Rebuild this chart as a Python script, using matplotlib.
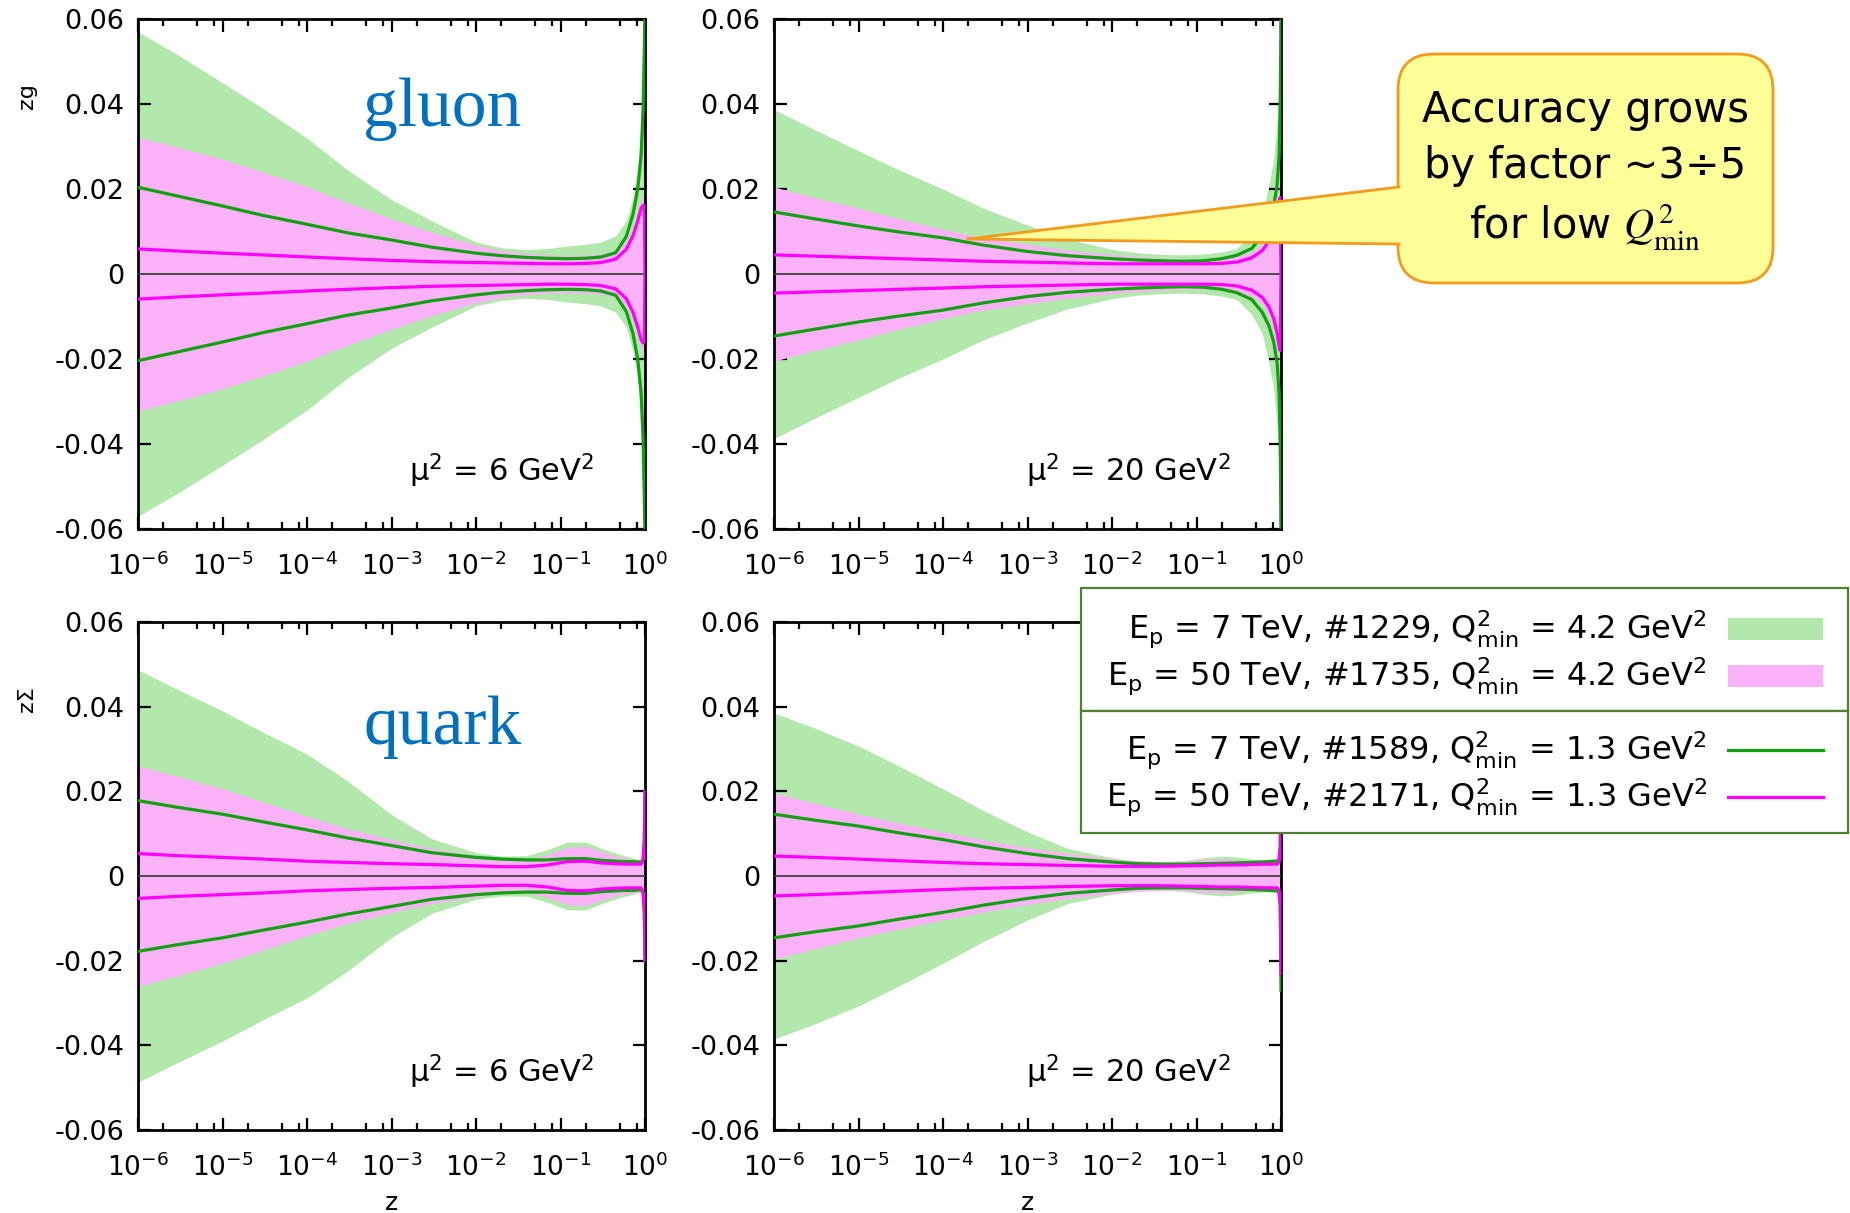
import numpy as np
import matplotlib.pyplot as plt
from matplotlib.patches import FancyBboxPatch, Rectangle, Polygon
from matplotlib.ticker import LogLocator, NullFormatter, FixedLocator, FixedFormatter

plt.rcParams['font.family'] = ['DejaVu Sans']
plt.rcParams['mathtext.fontset'] = 'dejavusans'

# z grid shared by all curves
z = [1e-6, 3e-6, 1e-5, 3e-5, 1e-4, 3e-4, 1e-3, 3e-3, 1e-2, 2e-2, 4e-2, 0.07,
     0.12, 0.2, 0.3, 0.45, 0.6, 0.72, 0.82, 0.9, 0.95, 0.98, 1.0]

# half-widths of the uncertainty (everything is symmetric around 0)
# gluon, mu^2 = 6 GeV^2
g6_band7 = [0.057, 0.0515, 0.045, 0.039, 0.032, 0.0245, 0.0175, 0.0125, 0.0075, 0.0062, 0.0057, 0.0060,
            0.0066, 0.0070, 0.0075, 0.0090, 0.0125, 0.018, 0.025, 0.034, 0.045, 0.056, 0.062]
g6_band50 = [0.0322, 0.0298, 0.027, 0.024, 0.0205, 0.0168, 0.013, 0.0098, 0.0068, 0.0055, 0.0048, 0.0045,
             0.0044, 0.0045, 0.0047, 0.0055, 0.0075, 0.0105, 0.014, 0.0175, 0.019, 0.025, 0.062]
g6_line7 = [0.0204, 0.0183, 0.0160, 0.0138, 0.0117, 0.0097, 0.0080, 0.0063, 0.0049, 0.0043, 0.0039, 0.0037,
            0.0036, 0.0037, 0.0040, 0.0050, 0.0088, 0.0140, 0.020, 0.028, 0.039, 0.052, 0.062]
g6_line50 = [0.0059, 0.0054, 0.0049, 0.0045, 0.0040, 0.0036, 0.0032, 0.0029, 0.0027, 0.0026, 0.0025, 0.0024,
             0.0024, 0.0025, 0.0027, 0.0035, 0.0058, 0.0090, 0.0125, 0.0155, 0.0162, 0.0160, 0.0]

# gluon, mu^2 = 20 GeV^2
g20_band7 = [0.0387, 0.034, 0.029, 0.0245, 0.020, 0.0155, 0.0115, 0.0082, 0.0058, 0.0050, 0.0046, 0.0045,
             0.0047, 0.0052, 0.0060, 0.0095, 0.014, 0.021, 0.027, 0.036, 0.046, 0.056, 0.062]
g20_band50 = [0.0205, 0.018, 0.0155, 0.013, 0.0105, 0.0085, 0.0070, 0.0056, 0.0046, 0.0041, 0.0038, 0.0036,
              0.0036, 0.0038, 0.0042, 0.0052, 0.0070, 0.0095, 0.013, 0.017, 0.020, 0.025, 0.062]
g20_line7 = [0.0146, 0.0130, 0.0113, 0.0099, 0.0085, 0.0068, 0.0053, 0.0043, 0.0036, 0.0033, 0.0031, 0.0030,
             0.0031, 0.0036, 0.0044, 0.0060, 0.0090, 0.0122, 0.016, 0.021, 0.028, 0.040, 0.062]
g20_line50 = [0.0045, 0.0042, 0.0039, 0.0036, 0.0033, 0.0030, 0.0028, 0.0026, 0.0024, 0.0024, 0.0024, 0.0024,
              0.0024, 0.0025, 0.0028, 0.0038, 0.0055, 0.0078, 0.0105, 0.014, 0.017, 0.018, 0.0]

# quark singlet, mu^2 = 6 GeV^2
q6_band7 = [0.0487, 0.044, 0.039, 0.034, 0.0288, 0.0225, 0.0145, 0.0088, 0.0055, 0.0047, 0.0048, 0.0062,
            0.0080, 0.0080, 0.0066, 0.0054, 0.0047, 0.0043, 0.0040, 0.0037, 0.0045, 0.009, 0.020]
q6_band50 = [0.026, 0.0235, 0.0206, 0.0175, 0.0141, 0.0112, 0.0086, 0.0065, 0.0049, 0.0042, 0.0040, 0.0050,
             0.0068, 0.0070, 0.0058, 0.0047, 0.0042, 0.0040, 0.0037, 0.0034, 0.0045, 0.009, 0.020]
q6_line7 = [0.0178, 0.0162, 0.0146, 0.0128, 0.0109, 0.0090, 0.0072, 0.0055, 0.0044, 0.0040, 0.0038, 0.0038,
            0.0041, 0.0041, 0.0037, 0.0035, 0.0034, 0.0034, 0.0033, 0.0033, 0.0040, 0.008, 0.020]
q6_line50 = [0.0053, 0.0048, 0.0044, 0.0040, 0.0035, 0.0032, 0.0029, 0.0027, 0.0024, 0.0022, 0.0022, 0.0026,
             0.0034, 0.0035, 0.0031, 0.0029, 0.0028, 0.0028, 0.0028, 0.0028, 0.0038, 0.008, 0.020]

# quark singlet, mu^2 = 20 GeV^2
q20_band7 = [0.0385, 0.035, 0.0307, 0.026, 0.0206, 0.0155, 0.0104, 0.0065, 0.0043, 0.0035, 0.0033, 0.0036,
             0.0043, 0.0047, 0.0045, 0.0040, 0.0038, 0.0036, 0.0035, 0.0034, 0.0040, 0.008, 0.027]
q20_band50 = [0.0196, 0.0172, 0.0146, 0.0125, 0.0104, 0.0085, 0.0067, 0.0053, 0.0041, 0.0036, 0.0034, 0.0035,
              0.0038, 0.0040, 0.0038, 0.0034, 0.0032, 0.0031, 0.0030, 0.0030, 0.0038, 0.008, 0.025]
q20_line7 = [0.0146, 0.0132, 0.0118, 0.0102, 0.0086, 0.0069, 0.0053, 0.0041, 0.0033, 0.0029, 0.0028, 0.0028,
             0.0029, 0.0030, 0.0031, 0.0032, 0.0033, 0.0034, 0.0035, 0.0035, 0.0040, 0.007, 0.027]
q20_line50 = [0.0047, 0.0044, 0.0040, 0.0036, 0.0032, 0.0029, 0.0027, 0.0025, 0.0023, 0.0023, 0.0023, 0.0024,
              0.0025, 0.0026, 0.0026, 0.0027, 0.0028, 0.0028, 0.0028, 0.0028, 0.0034, 0.007, 0.023]

yticks = [-0.06, -0.04, -0.02, 0, 0.02, 0.04, 0.06]
ytick_labels = ['-0.06', '-0.04', '-0.02', '0', '0.02', '0.04', '0.06']

legend_labels = [
    r'E$_\mathrm{p}$ = 7 TeV, #1229, Q$^2_\mathrm{min}$ = 4.2 GeV$^2$',
    r'E$_\mathrm{p}$ = 50 TeV, #1735, Q$^2_\mathrm{min}$ = 4.2 GeV$^2$',
    r'E$_\mathrm{p}$ = 7 TeV, #1589, Q$^2_\mathrm{min}$ = 1.3 GeV$^2$',
    r'E$_\mathrm{p}$ = 50 TeV, #2171, Q$^2_\mathrm{min}$ = 1.3 GeV$^2$',
]

c_band7 = '#b3e8ac'
c_band50 = '#fcb2f8'
c_line7 = '#10a010'
c_line50 = '#ff00ff'

fig = plt.figure(figsize=(18.5, 12.13), dpi=100)

W, H = 1850.0, 1213.0
def box(x0, y0, x1, y1):
    return [x0 / W, 1 - y1 / H, (x1 - x0) / W, (y1 - y0) / H]

ax1 = fig.add_axes(box(138, 19, 645, 529))
ax2 = fig.add_axes(box(774, 19, 1281, 529))
ax3 = fig.add_axes(box(138, 622, 645, 1130))
ax4 = fig.add_axes(box(774, 622, 1281, 1130))

panels = [
    (ax1, g6_band7, g6_band50, g6_line7, g6_line50, 'μ$^2$ = 6 GeV$^2$'),
    (ax2, g20_band7, g20_band50, g20_line7, g20_line50, 'μ$^2$ = 20 GeV$^2$'),
    (ax3, q6_band7, q6_band50, q6_line7, q6_line50, 'μ$^2$ = 6 GeV$^2$'),
    (ax4, q20_band7, q20_band50, q20_line7, q20_line50, 'μ$^2$ = 20 GeV$^2$'),
]

for ax, b7, b50, l7, l50, mu in panels:
    b7 = np.array(b7); b50 = np.array(b50)
    l7 = np.array(l7); l50 = np.array(l50)
    ax.fill_between(z, -b7, b7, color=c_band7, lw=0, zorder=1)
    ax.fill_between(z, -b50, b50, color=c_band50, lw=0, zorder=2)
    ax.axhline(0, color='#404040', lw=1.3, zorder=3)
    ax.plot(z, l7, color=c_line7, lw=2.3, zorder=4)
    ax.plot(z, -l7, color=c_line7, lw=2.3, zorder=4)
    ax.plot(z, l50, color=c_line50, lw=2.3, zorder=5)
    ax.plot(z, -l50, color=c_line50, lw=2.3, zorder=5)

    ax.set_xscale('log')
    ax.set_xlim(1e-6, 1)
    ax.set_ylim(-0.06, 0.06)
    ax.xaxis.set_major_locator(LogLocator(base=10, numticks=10))
    ax.xaxis.set_minor_locator(LogLocator(base=10, subs=(2, 5, 8), numticks=20))
    ax.xaxis.set_minor_formatter(NullFormatter())
    ax.yaxis.set_major_locator(FixedLocator(yticks))
    ax.yaxis.set_major_formatter(FixedFormatter(ytick_labels))
    ax.tick_params(which='both', direction='in', top=True, right=True, width=1.6)
    ax.tick_params(which='major', length=9)
    ax.tick_params(which='minor', length=5)
    ax.tick_params(axis='y', pad=10, labelsize=19.5)
    ax.tick_params(axis='x', pad=17, labelsize=19)
    for s in ax.spines.values():
        s.set_linewidth(2)
    ax.text(0.90, 0.094, mu, transform=ax.transAxes, ha='right', va='baseline', fontsize=22, zorder=6)

ax1.text(0.60, 0.79, 'gluon', transform=ax1.transAxes, ha='center', va='baseline',
         fontsize=50, family='Liberation Serif', color='#0070c0')
ax3.text(0.60, 0.76, 'quark', transform=ax3.transAxes, ha='center', va='baseline',
         fontsize=50, family='Liberation Serif', color='#0070c0')

fig.text(27 / W, 1 - 96 / H, 'zg', rotation=90, ha='center', va='center', fontsize=16)
fig.text(27 / W, 1 - 699 / H, 'zΣ', rotation=90, ha='center', va='center', fontsize=16)
fig.text(392 / W, 1 - 1203 / H, 'z', ha='center', va='center', fontsize=18)
fig.text(1028 / W, 1 - 1203 / H, 'z', ha='center', va='center', fontsize=18)

# overlay in pixel coordinates for legend and callout
ov = fig.add_axes([0, 0, 1, 1], zorder=10)
ov.set_xlim(0, W)
ov.set_ylim(H, 0)
ov.axis('off')
ov.patch.set_alpha(0)

# legend
leg_edge = '#4f7f2f'
ov.add_patch(Rectangle((1081, 588), 767, 123, facecolor='white', edgecolor=leg_edge, lw=1.6))
ov.add_patch(Rectangle((1081, 711), 767, 122, facecolor='white', edgecolor=leg_edge, lw=1.6))
rows_y = [629, 676, 750, 797]
for lab, yy in zip(legend_labels, rows_y):
    ov.text(1707, yy, lab, ha='right', va='center', fontsize=23)
ov.add_patch(Rectangle((1728, rows_y[0] - 11), 95, 22, facecolor=c_band7, lw=0))
ov.add_patch(Rectangle((1728, rows_y[1] - 11), 95, 22, facecolor=c_band50, lw=0))
ov.plot([1728, 1823], [rows_y[2], rows_y[2]], color=c_line7, lw=2.3)
ov.plot([1728, 1823], [rows_y[3], rows_y[3]], color=c_line50, lw=2.3)

# callout
c_fill = '#ffff99'
c_edge = '#f59a1b'
ov.add_patch(FancyBboxPatch((1398, 54), 375, 229, boxstyle='round,pad=0,rounding_size=36',
                            facecolor=c_fill, edgecolor=c_edge, lw=2, zorder=1))
tip = (968, 239)
ov.add_patch(Polygon([tip, (1402, 187), (1402, 244)], closed=True, facecolor=c_fill,
                     edgecolor='none', zorder=2))
ov.plot([tip[0], 1399], [tip[1], 187], color=c_edge, lw=2, zorder=3)
ov.plot([tip[0], 1399], [tip[1], 244], color=c_edge, lw=2, zorder=3)
ov.text(1585, 122, 'Accuracy grows', ha='center', va='baseline', fontsize=30, zorder=4)
ov.text(1585, 178, 'by factor ~3÷5', ha='center', va='baseline', fontsize=30, zorder=4)
ov.text(1585, 240, r'for low $Q^2_{\mathrm{min}}$', ha='center', va='baseline', fontsize=30,
        math_fontfamily='stix', zorder=4)

fig.savefig('out.png', dpi=100)
